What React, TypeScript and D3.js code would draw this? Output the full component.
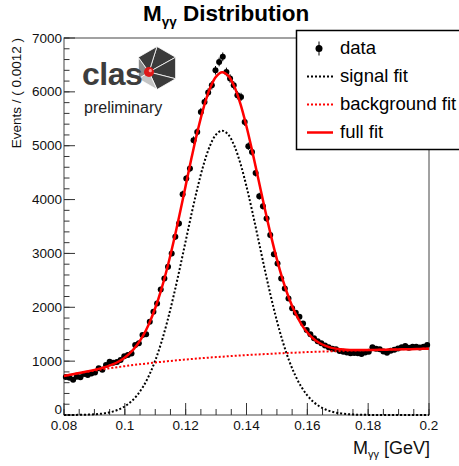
import React from 'react';
import * as d3 from 'd3';

// histogram: 100 bins of 0.0012 GeV from 0.08 to 0.2
const binLow = 0.08;
const binWidth = 0.0012;
const counts = [
  705, 690, 655, 712, 700, 760, 745, 770, 790, 866,
  840, 928, 989, 970, 985, 1020, 1090, 1113, 1144, 1299,
  1330, 1484, 1500, 1731, 1917, 2072, 2330, 2536, 2752, 3000,
  3309, 3557, 4100, 4391, 4577, 5102, 5256, 5627, 5813, 5990,
  6122, 6400, 6555, 6650, 6370, 6247, 6122, 5937, 5906, 5442,
  4990, 4885, 4495, 4063, 3878, 3649, 3340, 2987, 2814, 2536,
  2350, 2165, 1980, 1900, 1824, 1700, 1577, 1500, 1423, 1370,
  1330, 1290, 1256, 1230, 1219, 1190, 1174, 1160, 1145, 1150,
  1145, 1132, 1160, 1174, 1256, 1230, 1219, 1180, 1156, 1193,
  1210, 1237, 1260, 1280, 1250, 1267, 1267, 1255, 1267, 1299,
];

// fit curves sampled every 0.002 GeV from 0.08 to 0.2
const fitStep = 0.002;
const signalFit = [
  0, 1, 2, 4, 7, 13, 22, 38, 63, 102,
  160, 244, 363, 525, 739, 1011, 1347, 1746, 2203, 2704,
  3229, 3753, 4243, 4669, 4999, 5208, 5280, 5208, 4999, 4669,
  4243, 3753, 3229, 2704, 2203, 1746, 1347, 1011, 739, 525,
  363, 244, 160, 102, 63, 38, 22, 13, 7, 4,
  2, 1, 0, 0, 0, 0, 0, 0, 0, 0, 0,
];
const backgroundFit = [
  724, 746, 767, 787, 806, 825, 843, 860, 876, 892,
  907, 922, 936, 949, 962, 975, 987, 998, 1009, 1020,
  1030, 1040, 1049, 1058, 1067, 1075, 1083, 1091, 1099, 1106,
  1113, 1119, 1125, 1131, 1137, 1143, 1148, 1153, 1158, 1163,
  1168, 1172, 1176, 1180, 1184, 1188, 1192, 1195, 1198, 1202,
  1205, 1208, 1211, 1213, 1216, 1218, 1221, 1223, 1225, 1228, 1230,
];
const fullFit = [
  724, 747, 769, 791, 813, 838, 865, 898, 939, 994,
  1067, 1166, 1299, 1474, 1701, 1986, 2334, 2744, 3212, 3724,
  4259, 4793, 5292, 5727, 6066, 6283, 6363, 6299, 6098, 5775,
  5356, 4872, 4354, 3835, 3340, 2889, 2495, 2164, 1897, 1688,
  1531, 1416, 1336, 1282, 1247, 1226, 1214, 1208, 1205, 1206,
  1207, 1209, 1211, 1213, 1216, 1218, 1221, 1223, 1225, 1228, 1230,
];

const xTicks = [0.08, 0.1, 0.12, 0.14, 0.16, 0.18, 0.2];
const xTickLabels = ['0.08', '0.1', '0.12', '0.14', '0.16', '0.18', '0.2'];
const yTicks = [0, 1000, 2000, 3000, 4000, 5000, 6000, 7000];
const yTickLabels = ['0', '1000', '2000', '3000', '4000', '5000', '6000', '7000'];

const legendItems = ['data', 'signal fit', 'background fit', 'full fit'];

const W = 459, H = 466;
const frame = { left: 64, right: 429, top: 38, bottom: 415 };
const font = 'Liberation Sans, Arial, Helvetica, sans-serif';

function ClasLogo() {
  const cx = 157, cy = 68, r = 21.5;
  const hub: [number, number] = [149, 72];
  const verts = d3.range(6).map(k => {
    const a = (-90 + 60 * k) * Math.PI / 180;
    return [cx + r * Math.cos(a), cy + r * Math.sin(a)] as [number, number];
  });
  const fills = ['#3b3b3b', '#3b3b3b', '#3b3b3b', '#c4c4c4', '#8c8c8c', '#3b3b3b'];
  return (
    <g>
      {verts.map((v, k) => {
        const w = verts[(k + 1) % 6];
        return (
          <polygon key={k} points={`${hub[0]},${hub[1]} ${v[0]},${v[1]} ${w[0]},${w[1]}`}
            fill={fills[k]} stroke="#fff" strokeWidth={0.8} />
        );
      })}
      <text x={82} y={85} fontFamily={font} fontWeight="bold" fontSize={32} fill="#3d3d3d"
        letterSpacing={-0.5}>clas</text>
      <circle cx={hub[0]} cy={hub[1]} r={5} fill="#e01818" />
      <circle cx={hub[0] + 1.3} cy={hub[1] - 1.3} r={1.6} fill="#ff9a9a" />
      <text x={84} y={113} fontFamily={font} fontSize={16} fill="#222">preliminary</text>
    </g>
  );
}

export default function App() {
  const x = d3.scaleLinear().domain([0.08, 0.2]).range([frame.left, frame.right]);
  const y = d3.scaleLinear().domain([0, 7000]).range([frame.bottom, frame.top]);

  const fitLine = d3.line<number>()
    .x((_, i) => x(binLow + fitStep * i))
    .y(d => y(d))
    .curve(d3.curveCatmullRom);

  const xMinor = d3.range(0.08, 0.2001, 0.005);
  const yMinor = d3.range(0, 7001, 200);

  return (
    <svg width={W} height={H} style={{ position: 'absolute', left: 0, top: 0, background: '#fff' }}>
      {/* title */}
      <text x={143} y={20.5} fontFamily={font} fontWeight="bold" fontSize={22.5} fill="#000">
        M<tspan fontSize={13.5} dy={5.5}>γγ</tspan><tspan dy={-5.5}> Distribution</tspan>
      </text>

      {/* frame */}
      <rect x={frame.left} y={frame.top} width={frame.right - frame.left}
        height={frame.bottom - frame.top} fill="none" stroke="#444" strokeWidth={1} />

      {/* y axis ticks */}
      {yMinor.map(v => (
        <line key={'ym' + v} x1={frame.left} x2={frame.left + 5.5} y1={y(v)} y2={y(v)} stroke="#333" />
      ))}
      {yTicks.map((v, i) => (
        <g key={'y' + v}>
          <line x1={frame.left} x2={frame.left + 11} y1={y(v)} y2={y(v)} stroke="#333" />
          <text x={frame.left - 2} y={y(v) + (v === 0 ? -1 : 4.5)} textAnchor="end"
            fontFamily={font} fontSize={13.5} fill="#111">{yTickLabels[i]}</text>
        </g>
      ))}

      {/* x axis ticks */}
      {xMinor.map(v => (
        <line key={'xm' + v} x1={x(v)} x2={x(v)} y1={frame.bottom} y2={frame.bottom - 6} stroke="#333" />
      ))}
      {xTicks.map((v, i) => (
        <g key={'x' + v}>
          <line x1={x(v)} x2={x(v)} y1={frame.bottom} y2={frame.bottom - 12} stroke="#333" />
          <text x={x(v)} y={frame.bottom + 15} textAnchor="middle"
            fontFamily={font} fontSize={13.5} fill="#111">{xTickLabels[i]}</text>
        </g>
      ))}

      {/* axis titles */}
      <text transform={`translate(21,${frame.top}) rotate(-90)`} textAnchor="end"
        fontFamily={font} fontSize={13.5} fill="#111">Events / ( 0.0012 )</text>
      <text x={430} y={454} textAnchor="end" fontFamily={font} fontSize={18} fill="#111">
        M<tspan fontSize={11} dy={4}>γγ</tspan><tspan dy={-4}> [GeV]</tspan>
      </text>

      <ClasLogo />

      {/* data points */}
      <g>
        {counts.map((c, i) => {
          const cx = x(binLow + binWidth * (i + 0.5));
          const err = Math.sqrt(c);
          return (
            <g key={'d' + i}>
              <line x1={cx} x2={cx} y1={y(c - err)} y2={y(c + err)} stroke="#000" />
              <circle cx={cx} cy={y(c)} r={3} fill="#000" />
            </g>
          );
        })}
      </g>

      {/* fit curves */}
      <path d={fitLine(signalFit) || ''} fill="none" stroke="#000" strokeWidth={2} strokeDasharray="2,2" />
      <path d={fitLine(backgroundFit) || ''} fill="none" stroke="#ff0000" strokeWidth={2} strokeDasharray="2,2" />
      <path d={fitLine(fullFit) || ''} fill="none" stroke="#ff0000" strokeWidth={2.5} />

      {/* legend */}
      <g>
        <rect x={296.5} y={30.5} width={170} height={119} fill="#fff" stroke="#000" strokeWidth={1.5} />
        {legendItems.map((label, i) => {
          const yy = 53.5 + 28 * i;
          const my = yy - 5;
          let sym;
          if (i === 0) {
            sym = (
              <g>
                <line x1={319} x2={319} y1={my - 7} y2={my + 7} stroke="#000" />
                <circle cx={319} cy={my} r={3.5} fill="#000" />
              </g>
            );
          } else if (i === 1) {
            sym = <line x1={307} x2={333} y1={my} y2={my} stroke="#000" strokeWidth={2} strokeDasharray="2,2" />;
          } else if (i === 2) {
            sym = <line x1={307} x2={333} y1={my} y2={my} stroke="#ff0000" strokeWidth={2} strokeDasharray="2,2" />;
          } else {
            sym = <line x1={307} x2={333} y1={my} y2={my} stroke="#ff0000" strokeWidth={2.5} />;
          }
          return (
            <g key={label}>
              {sym}
              <text x={340} y={yy} fontFamily={font} fontSize={18.5} fill="#000">{label}</text>
            </g>
          );
        })}
      </g>
    </svg>
  );
}
